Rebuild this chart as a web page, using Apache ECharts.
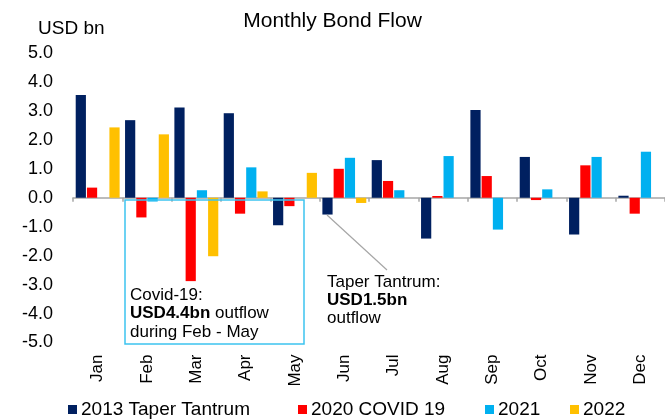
<!DOCTYPE html>
<html>
<head>
<meta charset="utf-8">
<script src="https://cdn.jsdelivr.net/npm/echarts@6/dist/echarts.min.js"></script>
<style>
html,body{margin:0;padding:0;background:#fff;}
#chart{width:665px;height:419px;}
</style>
</head>
<body>
<div id="chart"></div>
<script>
const months = ['Jan','Feb','Mar','Apr','May','Jun','Jul','Aug','Sep','Oct','Nov','Dec'];
const seriesNames = ['2013 Taper Tantrum','2020 COVID 19','2021','2022'];
const taper2013 = [3.55, 2.68, 3.12, 2.92, -0.95, -0.58, 1.30, -1.41, 3.03, 1.41, -1.27, 0.07];
const covid2020 = [0.35, -0.68, -2.88, -0.55, -0.29, 1.00, 0.58, 0.06, 0.75, -0.08, 1.12, -0.55];
const y2021 = [null, -0.13, 0.26, 1.05, null, 1.38, 0.26, 1.44, -1.10, 0.29, 1.41, 1.59];
const y2022 = [2.43, 2.19, -2.02, 0.22, 0.86, -0.18, null, null, null, null, null, null];
const yTicks = [-5, -4, -3, -2, -1, 0, 1, 2, 3, 4, 5];

const colors = ['#002060', '#ff0000', '#00b0f0', '#ffc000'];
const font = 'Liberation Sans, Arial, sans-serif';
const chart = echarts.init(document.getElementById('chart'));

const legendLeft = [68, 298, 485, 570];
const legends = seriesNames.map((n, i) => ({
  data: [n], left: legendLeft[i], top: 400, padding: 0,
  itemWidth: 9, itemHeight: 9, icon: 'rect', itemGap: 0,
  textStyle: {fontFamily: font, fontSize: 19, color: '#000', padding: [0, 0, 0, -1]}
}));

const dataSets = [taper2013, covid2020, y2021, y2022];

chart.setOption({
  animation: false,
  color: colors,
  title: [
    {text: 'Monthly Bond Flow', left: 'center', top: 11, padding: 0,
     textStyle: {fontFamily: font, fontSize: 21, fontWeight: 'normal', color: '#000'}},
    {text: 'USD bn', left: 38, top: 19, padding: 0,
     textStyle: {fontFamily: font, fontSize: 19, fontWeight: 'normal', color: '#000'}}
  ],
  legend: legends,
  grid: {left: 73, right: 0, top: 53, bottom: 76.5},
  xAxis: [
    {type: 'category', data: months, position: 'bottom',
     axisLine: {show: true, onZero: true, lineStyle: {color: '#a6a6a6', width: 1.5}},
     axisTick: {show: true, length: 4, lineStyle: {color: '#a6a6a6', width: 1.5}},
     axisLabel: {show: false}, splitLine: {show: false}},
    {type: 'category', data: months, position: 'bottom',
     axisLine: {show: false, onZero: false}, axisTick: {show: false},
     axisLabel: {show: true, rotate: 90, margin: 12, fontFamily: font, fontSize: 17, color: '#000'},
     splitLine: {show: false}}
  ],
  yAxis: {
    type: 'value', min: yTicks[0], max: yTicks[yTicks.length - 1], interval: 1,
    axisLine: {show: false}, axisTick: {show: false}, splitLine: {show: false},
    axisLabel: {margin: 20, fontFamily: font, fontSize: 18, color: '#000',
                formatter: v => v.toFixed(1)}
  },
  series: seriesNames.map((n, i) => ({
    name: n, type: 'bar', data: dataSets[i], xAxisIndex: 0,
    barGap: '10%', barCategoryGap: '11%',
    itemStyle: {color: colors[i]}
  })),
  graphic: [
    {type: 'rect', shape: {x: 125, y: 200, width: 179, height: 144},
     style: {fill: 'none', stroke: '#3cc3f0', lineWidth: 1.5}, z: 10},
    {type: 'text', left: 130, top: 286, z: 11,
     style: {
       text: 'Covid-19:\n{b|USD4.4bn} outflow\nduring Feb - May',
       fontFamily: font, fontSize: 17, fill: '#000', lineHeight: 18.5,
       rich: {b: {fontFamily: font, fontSize: 17, fontWeight: 'bold', fill: '#000', lineHeight: 18.5}}
     }},
    {type: 'line', shape: {x1: 327, y1: 215, x2: 387, y2: 270},
     style: {stroke: '#a6a6a6', lineWidth: 1.2}, z: 10},
    {type: 'text', left: 327, top: 273, z: 11,
     style: {
       text: 'Taper Tantrum:\n{b|USD1.5bn}\noutflow',
       fontFamily: font, fontSize: 17, fill: '#000', lineHeight: 18.3,
       rich: {b: {fontFamily: font, fontSize: 17, fontWeight: 'bold', fill: '#000', lineHeight: 18.3}}
     }}
  ]
});
</script>
</body>
</html>
